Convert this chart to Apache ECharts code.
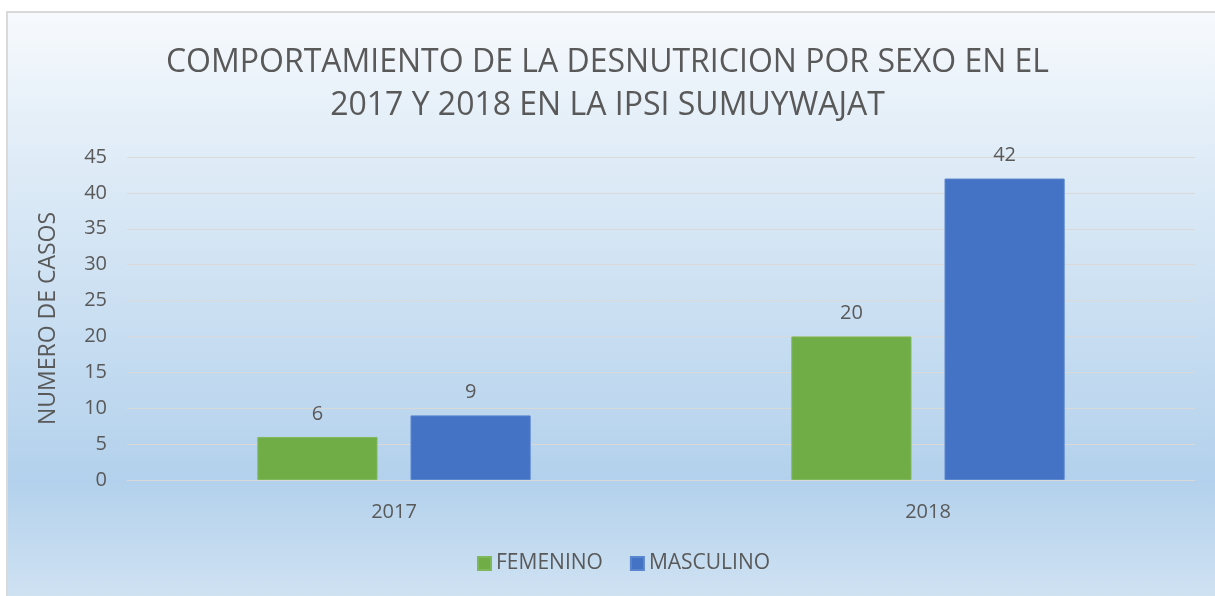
<!DOCTYPE html>
<html>
<head>
<meta charset="utf-8">
<script src="https://cdn.jsdelivr.net/npm/echarts@6/dist/echarts.min.js"></script>
<style>
  html, body { margin: 0; padding: 0; background: #fff; }
  #chart { width: 1215px; height: 596px; }
</style>
</head>
<body>
<div id="chart"></div>
<script>
var years = ['2017', '2018'];
var femenino = [6, 20];
var masculino = [9, 42];
var seriesNames = ['FEMENINO', 'MASCULINO'];

var txt = '#595959';
var font = 'Open Sans';

var el = echarts.init(document.getElementById('chart'));
var elData = {
    textStyle: { fontFamily: font },
    graphic: [{
        type: 'rect',
        z: -10,
        shape: { x: 7, y: 12, width: 1220, height: 600 },
        style: {
            fill: new echarts.graphic.LinearGradient(0, 0, 0, 1, [
                { offset: 0, color: '#f7fafd' },
                { offset: 0.2, color: '#e3eef8' },
                { offset: 0.78, color: '#b3d1ec' },
                { offset: 1, color: '#d3e4f3' }
            ]),
            stroke: '#d9d9d9',
            lineWidth: 2
        }
    }],
    title: {
        text: 'COMPORTAMIENTO DE LA DESNUTRICION POR SEXO EN EL\n2017 Y 2018 EN LA IPSI SUMUYWAJAT',
        left: 'center',
        top: 36,
        textStyle: {
            fontFamily: font,
            fontSize: 32,
            fontWeight: 'normal',
            color: txt,
            lineHeight: 43
        }
    },
    legend: {
        data: seriesNames,
        bottom: 17,
        left: 472,
        icon: 'rect',
        itemWidth: 13,
        itemHeight: 13,
        itemGap: 27,
        textStyle: { fontFamily: font, fontSize: 21, color: txt }
    },
    grid: { left: 127, right: 20, top: 157, bottom: 116, containLabel: false },
    xAxis: {
        type: 'category',
        data: years,
        axisLine: { lineStyle: { color: '#d9d9d9', width: 1 } },
        axisTick: { show: false },
        axisLabel: { fontFamily: font, fontSize: 20, color: txt, margin: 22 }
    },
    yAxis: {
        type: 'value',
        min: 0,
        max: 45,
        interval: 5,
        name: 'NUMERO DE CASOS',
        nameLocation: 'middle',
        nameGap: 67,
        nameTextStyle: { fontFamily: font, fontSize: 23, color: txt },
        axisLine: { show: false },
        axisTick: { show: false },
        axisLabel: { fontFamily: font, fontSize: 20, color: txt, margin: 20 },
        splitLine: { lineStyle: { color: '#d9d9d9', width: 1 } }
    },
    series: [
        {
            name: seriesNames[0],
            type: 'bar',
            data: femenino,
            barWidth: '22.5%',
            barGap: '27.5%',
            itemStyle: { color: '#70ad47', borderColor: '#7fb85a', borderWidth: 1 },
            label: { show: true, position: 'top', distance: 13, fontFamily: font, fontSize: 20, color: txt }
        },
        {
            name: seriesNames[1],
            type: 'bar',
            data: masculino,
            barWidth: '22.5%',
            itemStyle: { color: '#4472c4', borderColor: '#5a85cf', borderWidth: 1 },
            label: { show: true, position: 'top', distance: 13, fontFamily: font, fontSize: 20, color: txt }
        }
    ]
};
el.setOption(elData);
</script>
</body>
</html>
